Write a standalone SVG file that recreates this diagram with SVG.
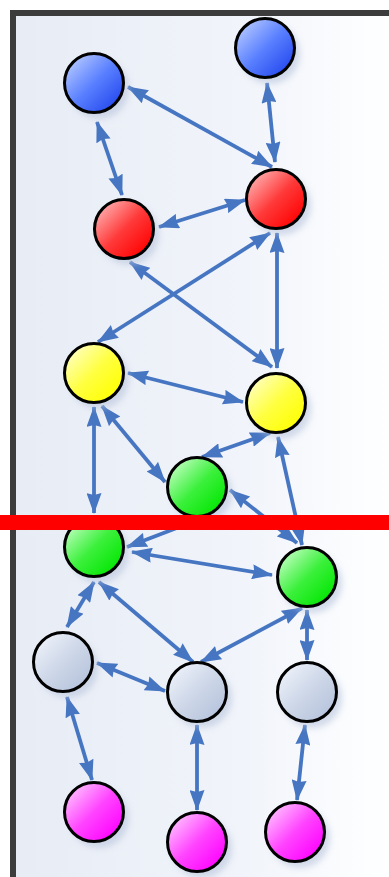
<svg xmlns="http://www.w3.org/2000/svg" width="389" height="877" viewBox="0 0 389 877">
<defs>
<linearGradient id="bg" x1="0" y1="0" x2="1" y2="0">
<stop offset="0" stop-color="#e7ecf5"/>
<stop offset="0.55" stop-color="#f1f4fa"/>
<stop offset="0.85" stop-color="#fdfeff"/>
<stop offset="1" stop-color="#ffffff"/>
</linearGradient>
<linearGradient id="gBlue" x1="0.1" y1="0.1" x2="0.9" y2="0.9"><stop offset="0" stop-color="#b4c8ff"/><stop offset="0.5" stop-color="#5a80ff"/><stop offset="1" stop-color="#2448ee"/></linearGradient>
<linearGradient id="gRed" x1="0.1" y1="0.1" x2="0.9" y2="0.9"><stop offset="0" stop-color="#ffb0b0"/><stop offset="0.5" stop-color="#ff3a3a"/><stop offset="1" stop-color="#ff0000"/></linearGradient>
<linearGradient id="gYellow" x1="0.1" y1="0.1" x2="0.9" y2="0.9"><stop offset="0" stop-color="#ffffc0"/><stop offset="0.5" stop-color="#ffff40"/><stop offset="1" stop-color="#ffff00"/></linearGradient>
<linearGradient id="gGreen" x1="0.1" y1="0.1" x2="0.9" y2="0.9"><stop offset="0" stop-color="#c0ffc0"/><stop offset="0.5" stop-color="#3cf03c"/><stop offset="1" stop-color="#00e600"/></linearGradient>
<linearGradient id="gGray" x1="0.1" y1="0.1" x2="0.9" y2="0.9"><stop offset="0" stop-color="#eef2fa"/><stop offset="0.5" stop-color="#cdd7e8"/><stop offset="1" stop-color="#b6c3dc"/></linearGradient>
<linearGradient id="gMag" x1="0.1" y1="0.1" x2="0.9" y2="0.9"><stop offset="0" stop-color="#ffc0ff"/><stop offset="0.5" stop-color="#ff44ff"/><stop offset="1" stop-color="#ff00ff"/></linearGradient>
<filter id="sh" x="-50%" y="-50%" width="200%" height="200%"><feGaussianBlur stdDeviation="3"/></filter>
<marker id="ah" viewBox="0 0 21 15" refX="20" refY="7.5" markerWidth="21" markerHeight="15" markerUnits="userSpaceOnUse" orient="auto-start-reverse">
<path d="M0,0 L21,7.5 L0,15 L2,7.5 z" fill="#4675c2"/>
</marker>
</defs>
<style>
.e{stroke:#4675c2;stroke-width:3.8;fill:none;marker-start:url(#ah);marker-end:url(#ah)}
.n circle.s{fill:#b8c4dc;opacity:0.6;filter:url(#sh)}
.n circle.c{stroke:#000;stroke-width:3}
</style>
<rect x="0" y="0" width="389" height="877" fill="#ffffff"/>
<rect x="13" y="13" width="420" height="900" fill="url(#bg)" stroke="#3c3c3c" stroke-width="6"/>

<g id="connectors">
<line class="e" x1="97" y1="122" x2="122" y2="195"/>
<line class="e" x1="128" y1="87" x2="272" y2="167"/>
<line class="e" x1="267" y1="83" x2="275" y2="162"/>
<line class="e" x1="159" y1="227" x2="245" y2="200"/>
<line class="e" x1="270" y1="233" x2="98" y2="342"/>
<line class="e" x1="130" y1="262" x2="272" y2="367"/>
<line class="e" x1="277" y1="233" x2="277" y2="368"/>
<line class="e" x1="128" y1="373" x2="243" y2="402"/>
<line class="e" x1="94" y1="407" x2="94" y2="513"/>
<line class="e" x1="102" y1="406" x2="165" y2="482"/>
<line class="e" x1="270" y1="433" x2="202" y2="457"/>
<line class="e" x1="278" y1="437" x2="302" y2="545"/>
<line class="e" x1="230" y1="490" x2="297" y2="543"/>
<line class="e" x1="127" y1="547" x2="195" y2="521" style="marker-end:none"/>
<line class="e" x1="132" y1="552" x2="272" y2="575"/>
<line class="e" x1="94" y1="582" x2="67" y2="627"/>
<line class="e" x1="99" y1="582" x2="193" y2="662"/>
<line class="e" x1="302" y1="608" x2="201" y2="662"/>
<line class="e" x1="307" y1="610" x2="307" y2="660"/>
<line class="e" x1="97" y1="663" x2="165" y2="691"/>
<line class="e" x1="67" y1="697" x2="92" y2="780"/>
<line class="e" x1="197" y1="725" x2="197" y2="810"/>
<line class="e" x1="305" y1="725" x2="297" y2="800"/>
</g>

<g id="blue1" class="n"><circle class="s" cx="99" cy="89" r="30"/><circle class="c" cx="94" cy="83" r="29.5" fill="url(#gBlue)"/></g>
<g id="blue2" class="n"><circle class="s" cx="270" cy="54" r="30"/><circle class="c" cx="265" cy="48" r="29.5" fill="url(#gBlue)"/></g>
<g id="red1" class="n"><circle class="s" cx="129" cy="235" r="30"/><circle class="c" cx="124" cy="229" r="29.5" fill="url(#gRed)"/></g>
<g id="red2" class="n"><circle class="s" cx="281" cy="205" r="30"/><circle class="c" cx="276" cy="199" r="29.5" fill="url(#gRed)"/></g>
<g id="yellow1" class="n"><circle class="s" cx="99" cy="379" r="30"/><circle class="c" cx="94" cy="373" r="29.5" fill="url(#gYellow)"/></g>
<g id="yellow2" class="n"><circle class="s" cx="281" cy="409" r="30"/><circle class="c" cx="276" cy="403" r="29.5" fill="url(#gYellow)"/></g>
<g id="green1" class="n"><circle class="s" cx="202" cy="493" r="30"/><circle class="c" cx="197" cy="487" r="29.5" fill="url(#gGreen)"/></g>
<g id="green2" class="n"><circle class="s" cx="99" cy="553" r="30"/><circle class="c" cx="94" cy="547" r="29.5" fill="url(#gGreen)"/></g>
<g id="green3" class="n"><circle class="s" cx="312" cy="583" r="30"/><circle class="c" cx="307" cy="577" r="29.5" fill="url(#gGreen)"/></g>
<g id="gray1" class="n"><circle class="s" cx="68" cy="668" r="30"/><circle class="c" cx="63" cy="662" r="29.5" fill="url(#gGray)"/></g>
<g id="gray2" class="n"><circle class="s" cx="202" cy="698" r="30"/><circle class="c" cx="197" cy="692" r="29.5" fill="url(#gGray)"/></g>
<g id="gray3" class="n"><circle class="s" cx="312" cy="698" r="30"/><circle class="c" cx="307" cy="692" r="29.5" fill="url(#gGray)"/></g>
<g id="magenta1" class="n"><circle class="s" cx="99" cy="818" r="30"/><circle class="c" cx="94" cy="812" r="29.5" fill="url(#gMag)"/></g>
<g id="magenta2" class="n"><circle class="s" cx="202" cy="848" r="30"/><circle class="c" cx="197" cy="842" r="29.5" fill="url(#gMag)"/></g>
<g id="magenta3" class="n"><circle class="s" cx="300" cy="838" r="30"/><circle class="c" cx="295" cy="832" r="29.5" fill="url(#gMag)"/></g>

<rect id="redbar" x="0" y="515" width="389" height="15" fill="#ff0000"/>
</svg>
